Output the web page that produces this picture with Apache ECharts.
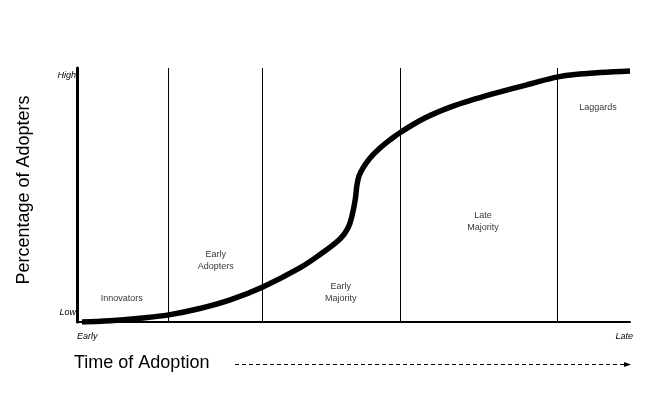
<!DOCTYPE html>
<html>
<head>
<meta charset="utf-8">
<title>Diffusion of Innovation</title>
<script src="https://cdn.jsdelivr.net/npm/echarts@6/dist/echarts.min.js"></script>
<style>
  html, body { margin: 0; padding: 0; background: #fff; }
</style>
</head>
<body>
<div id="main" style="width: 667px; height: 399px;"></div>
<script type="text/javascript">
// adoption curve (x: time 0-100, y: percentage 0-100)
var curveX = [0.9, 6.0, 11.4, 16.6, 22.2, 27.7, 33.6, 40.3, 43.9, 47.6, 49.0, 49.7, 50.3, 50.6, 51.0, 51.7, 53.0, 54.8, 56.6, 58.6, 62.9, 67.5, 72.0, 76.5, 81.9, 87.0, 90.9, 94.6, 100];
var curveY = [0, 0.5, 1.5, 2.8, 5.3, 8.7, 13.8, 21.3, 26.5, 32.8, 37.0, 41.6, 48.0, 53.5, 57.5, 60.6, 64.6, 68.5, 71.7, 74.8, 80.3, 84.6, 87.8, 90.6, 93.7, 96.5, 97.6, 98.2, 98.8];

// category boundaries along the time axis
var dividers = [16.55, 33.54, 58.5, 86.89];

// category labels and where they sit (data coords)
var groupNames = ['Innovators', 'Early\nAdopters', 'Early\nMajority', 'Late\nMajority', 'Laggards'];
var groupX = [8.1, 25.1, 47.7, 73.4, 94.2];
var groupY = [9.4, 24.4, 11.8, 39.4, 84.3];

var yLabels = ['Low', 'High'];
var xLabels = ['Early', 'Late'];

var font = '"Liberation Sans", Arial, sans-serif';
var myChart = echarts.init(document.getElementById('main'));

var curve = [];
for (var i = 0; i < curveX.length; i++) {
  curve.push([curveX[i], curveY[i]]);
}

var series = [{
  type: 'line',
  data: curve,
  smooth: 0.4,
  symbol: 'none',
  lineStyle: { color: '#000', width: 5.5 },
  z: 5
}];

for (var j = 0; j < dividers.length; j++) {
  series.push({
    type: 'line',
    data: [[dividers[j], 0], [dividers[j], 100]],
    symbol: 'none',
    lineStyle: { color: '#000', width: 1 },
    z: 3
  });
}

var labelData = [];
for (var k = 0; k < groupNames.length; k++) {
  labelData.push({ value: [groupX[k], groupY[k]], name: groupNames[k] });
}
series.push({
  type: 'scatter',
  data: labelData,
  symbolSize: 0,
  silent: true,
  label: {
    show: true,
    position: 'inside',
    formatter: function (p) { return p.name; },
    color: '#000',
    fontFamily: font,
    fontSize: 9,
    lineHeight: 12,
    align: 'center'
  }
});

var option = {
  backgroundColor: '#fff',
  animation: false,
  grid: { left: 77, right: 37, top: 68, bottom: 77 },
  xAxis: {
    type: 'value',
    min: 0,
    max: 100,
    axisLine: { show: true, onZero: false, lineStyle: { color: '#000', width: 2 } },
    axisTick: { show: false },
    axisLabel: { show: false },
    splitLine: { show: false }
  },
  yAxis: {
    type: 'value',
    min: 0,
    max: 100,
    axisLine: { show: true, lineStyle: { color: '#000', width: 3 } },
    axisTick: { show: false },
    axisLabel: { show: false },
    splitLine: { show: false }
  },
  series: series,
  graphic: [
    {
      type: 'text', x: 24, y: 190, rotation: Math.PI / 2,
      style: { text: 'Percentage of Adopters', font: '18px ' + font, fill: '#000', textAlign: 'center', textVerticalAlign: 'middle' }
    },
    {
      type: 'text', x: 76, y: 75,
      style: { text: yLabels[1], font: 'italic 9px ' + font, fill: '#000', textAlign: 'right', textVerticalAlign: 'middle' }
    },
    {
      type: 'text', x: 76, y: 312,
      style: { text: yLabels[0], font: 'italic 9px ' + font, fill: '#000', textAlign: 'right', textVerticalAlign: 'middle' }
    },
    {
      type: 'text', x: 77, y: 336,
      style: { text: xLabels[0], font: 'italic 9px ' + font, fill: '#000', textAlign: 'left', textVerticalAlign: 'middle' }
    },
    {
      type: 'text', x: 633, y: 336,
      style: { text: xLabels[1], font: 'italic 9px ' + font, fill: '#000', textAlign: 'right', textVerticalAlign: 'middle' }
    },
    {
      type: 'text', x: 74, y: 363,
      style: { text: 'Time of Adoption', font: '18px ' + font, fill: '#000', textAlign: 'left', textVerticalAlign: 'middle' }
    },
    {
      type: 'line',
      shape: { x1: 235, y1: 364.5, x2: 625, y2: 364.5 },
      style: { stroke: '#000', lineWidth: 1, lineDash: [4, 3] }
    },
    {
      type: 'polygon',
      shape: { points: [[624, 362], [631, 364.5], [624, 367]] },
      style: { fill: '#000' }
    }
  ]
};

myChart.setOption(option);
</script>
</body>
</html>
